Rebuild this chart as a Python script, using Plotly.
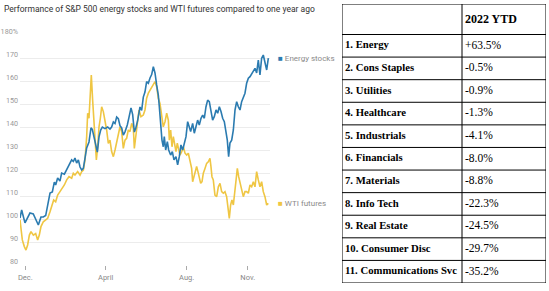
import pandas as pd
import plotly.graph_objects as go

# ---------------- data ----------------
start_date = "2021-11-23"
series_names = ["Energy stocks", "WTI futures"]

energy_days = [0,2.5,7.5,11.5,15,20,23.6,27.6,31.6,35.1,38.7,42.7,45.2,48.7,51.7,53.7,56.7,60.2,62.7,66.8,
               70.3,73.8,77.8,80.3,82.8,85.3,87.9,90.4,92.9,95.4,97.9,100.4,103.9,106.9,108.9,111.4,113.9,116.5,119,121.5,
               124,128,132,135.5,138,140.6,143.1,145.6,148.1,150.6,153.1,155.6,158.1,161.6,164.2,167.2,169.7,172.2,174.2,177.2,
               180.7,183.2,185.7,188.2,190.7,193.3,195.8,198.3,200.8,203.3,205.8,208.3,209.8,211.8,213.8,215.8,217.3,219.4,221.9,223.9,
               226.9,229.4,231.9,234.9,237.4,239.9,242.4,245,247.5,250,252.5,255,257,260,262.5,265,267.5,270,272.6,275.1,
               277.6,280.1,282.6,285.1,287.6,290.1,292.6,295.2,297.7,300.2,302.7,305.2,307.7,310.2,312.2,314.2,316.2,318.8,321.3,323.8,
               326.3,328.8,331.3,333.8,336.3,338.8,341.3,343.9,346.4,348.9,351.4,353.9,356.4,358.9,361.4,363.9,366.4,368.9,371.5,374]
energy_vals = [100.4,103.9,98.3,100.9,102.6,102.2,99.5,97.4,100.9,100.9,101.5,107,111.3,111.8,116,114.8,117.8,116.5,120,119.5,
               121.3,123.5,125.7,125,126.5,124.3,125.7,122.6,121.3,122,125.7,130.9,133.5,139.6,139,135.7,133,129.1,135.7,138.7,
               140,139.3,140,139.1,140,142.2,141.5,144.3,143.6,140.6,139.6,136.5,137.9,140.9,144.3,148.3,145.4,137.8,139.3,142.9,
               148.7,147.2,153,155.2,159.7,159,161.3,162.8,166.2,163.5,158.3,153.9,148.8,141.7,134.3,131.4,135.8,130,133.6,130,
               127.8,129.3,125.7,127.1,123.5,127.1,132.2,130,133.6,135.8,142.3,139.4,138,141.6,137.3,140.1,143,140.9,143.8,145.2,
               143.8,148.8,151.7,151,146,143,144.5,147.4,146,148.8,146.7,143.8,142.3,138.7,134.3,127.1,133,134.3,138.7,147.4,
               151,148.8,147.4,151,153.2,154.7,159,161.2,161.9,163.3,164,165.5,163.5,169.1,162.6,169.9,171.3,167.7,164.8,169.9]

wti_days = [0,3.5,6.5,9,11.5,14.1,16.6,20.1,23.6,26.6,29.1,31.6,35.1,38.7,41.7,45.2,47.7,50.7,53.7,56.7,
            60.2,63.7,66.8,70.3,73.8,77.8,80.3,82.8,86.8,90.4,92.9,95.4,97.9,100.4,101.9,103.9,105.9,107.4,109.4,111.4,
            113.5,115,117,119,121,123,125.5,128,130.5,133,135.5,138,140.6,143.1,145.6,148.1,150.6,153.1,155.6,158.1,
            160.6,163.1,165.6,168.2,170.7,172.2,174.2,176.7,179.2,182.2,185.7,188.2,190.7,193.3,195.8,198.3,200.8,203.3,205.8,208.3,
            210.8,213.3,215.8,218.4,220.9,223.4,224.9,226.9,228.9,230.9,232.9,234.9,236.9,238.9,240.9,243.5,246,248.5,251,253.5,
            256,258.5,260,262,264,266,268,270,272.1,274.1,276.1,278.6,281.1,283.6,286.1,287.6,289.1,291.1,293.6,296.2,
            298.7,301.2,303.7,306.2,308.7,311.2,313.7,315.2,317.2,319.2,321.3,323.3,325.3,327.3,329.3,331.3,333.8,336.3,338.8,341.3,
            343.9,346.4,348.9,351.4,353.9,356.4,358.9,361.4,363.9,366.4,368.9,371.5,374]
wti_vals = [99.6,90.9,88,86.5,88.7,93,94.5,93,93.7,90.9,93,96.7,98.8,99.6,100.3,103.2,105.4,108.3,107.5,110.4,
            111.9,113.3,114.8,117,118.4,117.7,119.9,119.1,120.6,119.1,120.6,121.3,125.7,135.8,146,143.8,154.7,162.6,151.7,140.1,
            134.3,125.7,131.4,140.1,143.8,148.8,146.7,143,138.7,132.9,134.3,129.3,127.1,130,133.6,138,140.1,138,130.7,134.3,
            135.1,138.7,138,141.6,139.4,130.7,135.8,143,147.4,144.5,145.2,147.4,152.5,154.7,156.1,157.5,158.3,159.7,157.5,152.5,
            150.3,145.2,140.1,142.3,146,143,134.3,138.7,131.4,135.8,131.4,129.3,133,130.7,127.8,129.3,131.4,128.6,127.8,128.6,
            125.7,122,116.2,118.4,120.6,122.8,120.6,118.4,115.5,116.2,119.9,122,124.2,124.9,126.4,122.8,118.4,117,110.4,109.7,
            114,115.5,111.9,111.2,111.9,109.7,103.9,100.3,106.1,108.3,106.1,112.6,117.7,122,118.4,115.5,113.3,109.7,111.9,111.9,
            111.2,114.8,114,116.2,114,120.6,117,114,116.2,111.9,109.7,106.1,106.8]

y_tick_vals = [80, 90, 100, 110, 120, 130, 140, 150, 160, 170, 180]
y_tick_text = ["80", "90", "100", "110", "120", "130", "140", "150", "160", "170", "180%"]
x_tick_dates = ["2021-12-01", "2022-04-01", "2022-08-01", "2022-11-01"]
x_tick_text = ["Dec.", "April", "Aug.", "Nov."]

sectors = ["1. Energy", "2. Cons Staples", "3. Utilities", "4. Healthcare", "5. Industrials",
           "6. Financials", "7. Materials", "8. Info Tech", "9. Real Estate", "10. Consumer Disc",
           "11. Communications Svc"]
ytd = ["+63.5%", "-0.5%", "-0.9%", "-1.3%", "-4.1%", "-8.0%", "-8.8%", "-22.3%", "-24.5%", "-29.7%", "-35.2%"]
table_header = ["", "2022 YTD"]

# ---------------- figure ----------------
W, H = 549, 291
BLUE = "#2b7bb0"
YELLOW = "#efc643"

t0 = pd.Timestamp(start_date)
def to_dates(days):
    return [t0 + pd.to_timedelta(d, unit="D") for d in days]

n_e = min(len(energy_days), len(energy_vals))
n_w = min(len(wti_days), len(wti_vals))
e_x = to_dates(energy_days[:n_e]); e_y = energy_vals[:n_e]
w_x = to_dates(wti_days[:n_w]); w_y = wti_vals[:n_w]

fig = go.Figure()
fig.add_trace(go.Scatter(x=w_x, y=w_y, mode="lines", name=series_names[1],
                         line=dict(color=YELLOW, width=1.6), hoverinfo="skip"))
fig.add_trace(go.Scatter(x=e_x, y=e_y, mode="lines", name=series_names[0],
                         line=dict(color=BLUE, width=1.6), hoverinfo="skip"))

# end labels
for name, xs, ys, col in [(series_names[0], e_x, e_y, BLUE), (series_names[1], w_x, w_y, YELLOW)]:
    fig.add_annotation(x=xs[-1], y=ys[-1], xref="x", yref="y", xanchor="left", yanchor="middle",
                       xshift=8, showarrow=False,
                       text=f"<span style='color:{col}'>■</span> {name}",
                       font=dict(family="Roboto", size=8, color="#8a8a8a"))

x0_px, x1_px = 20, 270
y_top_px, y_bot_px = 35, 265
fig.update_layout(
    width=W, height=H, margin=dict(l=0, r=0, t=0, b=0, autoexpand=False),
    paper_bgcolor="white", plot_bgcolor="white", showlegend=False,
    title=dict(text="Performance of S&P 500 energy stocks and WTI futures compared to one year ago",
               x=4 / W, xanchor="left", xref="paper", y=1 - 6 / H, yanchor="top", yref="paper",
               font=dict(family="Roboto", size=8.5, color="#333333")),
    xaxis=dict(domain=[x0_px / W, x1_px / W], type="date", automargin=False,
               range=[t0, t0 + pd.to_timedelta(376.5, unit="D")],
               tickvals=pd.to_datetime(x_tick_dates), ticktext=x_tick_text,
               ticks="outside", ticklen=4, tickcolor="#aaaaaa", tickwidth=1, ticklabelstandoff=1,
               showgrid=False, showline=False, zeroline=False,
               tickfont=dict(family="Roboto", size=7.5, color="#888888")),
    yaxis=dict(domain=[(H - y_bot_px) / H, (H - y_top_px) / H], range=[80, 180], automargin=False,
               tickvals=y_tick_vals, ticktext=y_tick_text,
               showgrid=True, gridcolor="#ececec", gridwidth=1, zeroline=False, showline=False,
               ticks="", ticklabelshift=-4, ticklabelstandoff=1,
               tickfont=dict(family="Roboto", size=7.2, color="#999999")),
)

# ---------------- table (drawn on its own axes, units = pixels inside the table) ----------------
tbl_left, tbl_right, tbl_top, tbl_bot = 342, 546, 4, 283
col_w = [120, 84]
header_h = 30.5
row_h = (tbl_bot - tbl_top - header_h) / len(sectors)
tw = sum(col_w)
th = tbl_bot - tbl_top

fig.update_layout(
    xaxis2=dict(domain=[tbl_left / W, tbl_right / W], range=[0, tw], visible=False, fixedrange=True,
                automargin=False),
    yaxis2=dict(domain=[(H - tbl_bot) / H, (H - tbl_top) / H], range=[th, 0], visible=False, fixedrange=True,
                automargin=False),
)

row_edges = [0, header_h] + [header_h + row_h * (i + 1) for i in range(len(sectors))]
col_edges = [0, col_w[0], tw]
for yv in row_edges:
    fig.add_shape(type="line", xref="x2", yref="y2", x0=0, x1=tw, y0=yv, y1=yv,
                  line=dict(color="black", width=1))
for xv in col_edges:
    fig.add_shape(type="line", xref="x2", yref="y2", x0=xv, x1=xv, y0=0, y1=th,
                  line=dict(color="black", width=1))

row_centers = [header_h + row_h * (i + 0.5) for i in range(len(sectors))]
fig.add_trace(go.Scatter(
    x=[col_w[0] + 3], y=[header_h / 2 + 1], xaxis="x2", yaxis="y2", mode="text",
    text=[f"<b>{table_header[1]}</b>"], textposition="middle right", hoverinfo="skip",
    textfont=dict(family="Liberation Serif", size=12, color="black")))
fig.add_trace(go.Scatter(
    x=[3] * len(sectors), y=row_centers, xaxis="x2", yaxis="y2", mode="text",
    text=[f"<b>{s}</b>" for s in sectors], textposition="middle right", hoverinfo="skip",
    textfont=dict(family="Liberation Serif", size=10.7, color="black")))
fig.add_trace(go.Scatter(
    x=[col_w[0] + 3] * len(ytd), y=row_centers, xaxis="x2", yaxis="y2", mode="text",
    text=ytd, textposition="middle right", hoverinfo="skip",
    textfont=dict(family="Liberation Serif", size=11.5, color="black")))

fig.write_html("out.html")
